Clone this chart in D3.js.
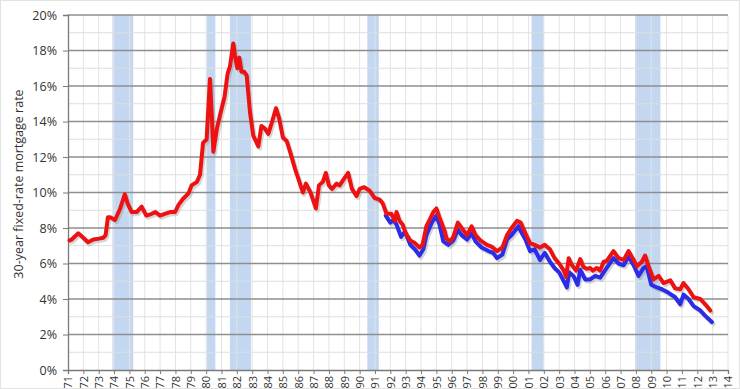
<!DOCTYPE html>
<html><head><meta charset="utf-8">
<script src="https://cdn.jsdelivr.net/npm/d3@7"></script>
<style>html,body{margin:0;padding:0;background:#fff;}svg{display:block;}</style>
</head><body>
<svg id="c" width="740" height="389"></svg>
<script>
// ---- data ----
const redDates = [1971.1,1971.24,1971.67,1972.0,1972.3,1972.65,1973.0,1973.3,1973.45,1973.6,1973.75,1974.06,1974.4,1974.7,1974.9,1975.15,1975.47,1975.8,1976.1,1976.45,1976.7,1977.0,1977.3,1977.65,1977.97,1978.2,1978.5,1978.85,1979.05,1979.4,1979.6,1979.8,1980.03,1980.25,1980.36,1980.47,1980.7,1981.0,1981.2,1981.4,1981.55,1981.77,1981.88,1982.03,1982.16,1982.3,1982.47,1982.64,1982.86,1983.07,1983.4,1983.6,1983.83,1984.05,1984.3,1984.55,1984.75,1985.0,1985.25,1985.5,1985.8,1986.0,1986.3,1986.5,1986.8,1987.15,1987.35,1987.6,1987.8,1988.0,1988.2,1988.5,1988.7,1989.0,1989.25,1989.5,1989.8,1990.0,1990.3,1990.65,1990.97,1991.3,1991.5,1991.75,1992.07,1992.3,1992.4,1992.6,1992.8,1993.0,1993.3,1993.6,1993.9,1994.1,1994.35,1994.55,1994.8,1995.0,1995.2,1995.55,1995.66,1995.9,1996.1,1996.4,1996.65,1997.0,1997.3,1997.55,1997.87,1998.3,1998.6,1998.95,1999.3,1999.6,1999.9,2000.25,2000.5,2000.8,2001.1,2001.4,2001.75,2002.06,2002.4,2002.7,2003.0,2003.3,2003.45,2003.62,2003.8,2004.1,2004.37,2004.58,2004.8,2005.02,2005.2,2005.45,2005.67,2005.9,2006.1,2006.54,2006.87,2007.2,2007.52,2007.85,2008.06,2008.39,2008.6,2008.82,2009.15,2009.48,2009.8,2010.24,2010.56,2010.89,2011.1,2011.43,2011.76,2012.2,2012.52,2012.85];
const redRates = [7.3,7.35,7.7,7.45,7.2,7.35,7.4,7.45,7.6,8.6,8.6,8.45,9.1,9.9,9.35,8.9,8.9,9.2,8.7,8.8,8.9,8.7,8.8,8.9,8.9,9.3,9.65,9.95,10.4,10.6,11.0,12.8,13.0,16.4,14.5,12.3,13.6,14.7,15.4,16.7,17.1,18.4,17.7,17.0,17.6,16.8,16.8,16.6,14.5,13.2,12.6,13.75,13.6,13.3,14.0,14.75,14.2,13.1,12.9,12.2,11.3,10.8,10.0,10.5,10.0,9.1,10.4,10.6,11.1,10.4,10.2,10.5,10.4,10.8,11.1,10.2,9.8,10.2,10.3,10.1,9.7,9.6,9.4,8.8,8.8,8.4,8.9,8.4,8.2,7.7,7.3,7.15,6.9,7.05,8.1,8.45,8.9,9.1,8.6,7.8,7.4,7.25,7.5,8.3,8.0,7.6,8.1,7.6,7.3,7.05,6.95,6.7,6.9,7.6,8.0,8.4,8.3,7.7,7.15,7.05,6.9,7.05,6.8,6.3,6.0,5.6,5.25,6.3,5.95,5.6,6.25,5.8,5.7,5.75,5.6,5.75,5.6,6.1,6.15,6.7,6.3,6.2,6.7,6.2,5.85,6.1,6.45,5.85,5.1,5.3,4.9,5.05,4.6,4.55,4.9,4.55,4.1,4.0,3.7,3.35];
const blueDates = [1991.7,1992.0,1992.2,1992.4,1992.7,1992.95,1993.3,1993.6,1993.9,1994.15,1994.35,1994.7,1995.0,1995.2,1995.45,1995.78,1996.1,1996.4,1996.65,1997.0,1997.3,1997.55,1997.95,1998.4,1998.7,1998.95,1999.3,1999.6,1999.9,2000.35,2000.45,2000.8,2001.1,2001.4,2001.75,2002.06,2002.4,2002.7,2003.0,2003.3,2003.5,2003.65,2003.93,2004.2,2004.37,2004.7,2005.0,2005.35,2005.67,2006.1,2006.54,2006.87,2007.2,2007.52,2007.85,2008.17,2008.5,2008.7,2009.0,2009.37,2009.7,2010.13,2010.56,2010.89,2011.1,2011.43,2011.76,2012.2,2012.52,2012.95];
const blueRates = [8.7,8.3,8.45,8.2,7.5,7.8,7.05,6.8,6.45,6.8,7.6,8.3,8.7,8.2,7.25,7.05,7.3,7.9,7.6,7.35,7.7,7.25,6.9,6.7,6.6,6.3,6.5,7.35,7.6,8.1,7.9,7.35,6.7,6.8,6.2,6.6,6.1,5.75,5.5,5.0,4.65,5.5,5.3,4.8,5.65,5.1,5.1,5.3,5.2,5.75,6.3,6.0,5.9,6.4,5.9,5.3,5.75,5.85,4.8,4.65,4.55,4.35,4.1,3.7,4.25,4.0,3.6,3.35,3.05,2.7];
const recessionStarts = [1973.9, 1980.04, 1981.55, 1990.5, 2001.2, 2007.94];
const recessionEnds   = [1975.25, 1980.6, 1982.92, 1991.25, 2002.0, 2009.6];
const yTicks = [0,2,4,6,8,10,12,14,16,18,20];
const yMinor = [1,3,5,7,9,11,13,15,17,19];
const xYears = d3.range(1971, 2015);
const xTickLabels = xYears.map(y => String(y % 100).padStart(2, "0"));
const yTitle = "30-year fixed-rate mortgage rate";

// ---- chart ----
const svg = d3.select("#c");
const x = d3.scaleLinear().domain([1971, 2014]).range([68, 728]);
const y = d3.scaleLinear().domain([0, 20]).range([370, 15]);
const font = "'Open Sans', 'Liberation Sans', sans-serif";

svg.append("rect").attr("x",0.5).attr("y",0.5).attr("width",739).attr("height",388)
  .attr("fill","#fff").attr("stroke","#e2e2e2");

// recession bands
svg.append("g").selectAll("rect").data(recessionStarts).join("rect")
  .attr("x", (d) => x(d))
  .attr("width", (d, i) => x(recessionEnds[i]) - x(d))
  .attr("y", y(20)).attr("height", y(0) - y(20))
  .attr("fill", "#c3d7f0");

// vertical gridlines
svg.append("g").selectAll("line").data(xYears.slice(1)).join("line")
  .attr("x1", d => x(d)).attr("x2", d => x(d))
  .attr("y1", y(20)).attr("y2", y(0))
  .attr("stroke", "#e3e3e3").attr("stroke-width", 1);

// minor horizontal gridlines
svg.append("g").selectAll("line").data(yMinor).join("line")
  .attr("x1", x(1971)).attr("x2", x(2014))
  .attr("y1", d => y(d)).attr("y2", d => y(d))
  .attr("stroke", "#dedede").attr("stroke-width", 1);

// major horizontal gridlines
svg.append("g").selectAll("line").data(yTicks.slice(1)).join("line")
  .attr("x1", x(1971)).attr("x2", x(2014))
  .attr("y1", d => y(d)).attr("y2", d => y(d))
  .attr("stroke", "#8e8e8e").attr("stroke-width", 1.3);

// y axis
const yAxis = d3.axisLeft(y).tickValues(yTicks).tickFormat(d => d + "%").tickSize(5).tickPadding(6);
const gy = svg.append("g").attr("transform", `translate(${x(1971)},0)`).call(yAxis);
gy.select(".domain").attr("stroke", "#7a7a7a").attr("stroke-width", 1.3);
gy.selectAll(".tick line").attr("stroke", "#7a7a7a");
gy.selectAll("text").attr("font-family", font).attr("font-size", 12.5).attr("fill", "#333");

// x axis
const xAxis = d3.axisBottom(x).tickValues(xYears).tickFormat((d, i) => xTickLabels[i]).tickSize(4).tickPadding(3);
const gx = svg.append("g").attr("transform", `translate(0,${y(0)})`).call(xAxis);
gx.select(".domain").attr("stroke", "#7a7a7a").attr("stroke-width", 1.3);
gx.selectAll(".tick line").attr("stroke", "#7a7a7a");
gx.selectAll("text").attr("font-family", font).attr("font-size", 11).attr("fill", "#333")
  .attr("text-anchor", "end").attr("transform", "rotate(-90)")
  .attr("x", -6).attr("y", 0).attr("dy", "0.35em");

// y title
svg.append("text").attr("transform", "translate(23,184) rotate(-90)")
  .attr("text-anchor", "middle").attr("font-family", font).attr("font-size", 12.5)
  .attr("fill", "#333").text(yTitle);

// lines
const line = d3.line().x(d => x(d[0])).y(d => y(d[1]));
const red = redDates.map((d, i) => [d, redRates[i]]);
const blue = blueDates.map((d, i) => [d, blueRates[i]]);
const lines = svg.append("g").attr("fill", "none").attr("stroke-linejoin", "round").attr("stroke-linecap", "round");
[blue, red].forEach(s => {
  lines.append("path").datum(s).attr("d", line).attr("transform", "translate(1.5,2)")
    .attr("stroke", "#888").attr("stroke-opacity", 0.35).attr("stroke-width", 4.2);
});
lines.append("path").datum(blue).attr("d", line).attr("stroke", "#2b2bea").attr("stroke-width", 4);
lines.append("path").datum(red).attr("d", line).attr("stroke", "#ee1111").attr("stroke-width", 4);
</script>
</body></html>
